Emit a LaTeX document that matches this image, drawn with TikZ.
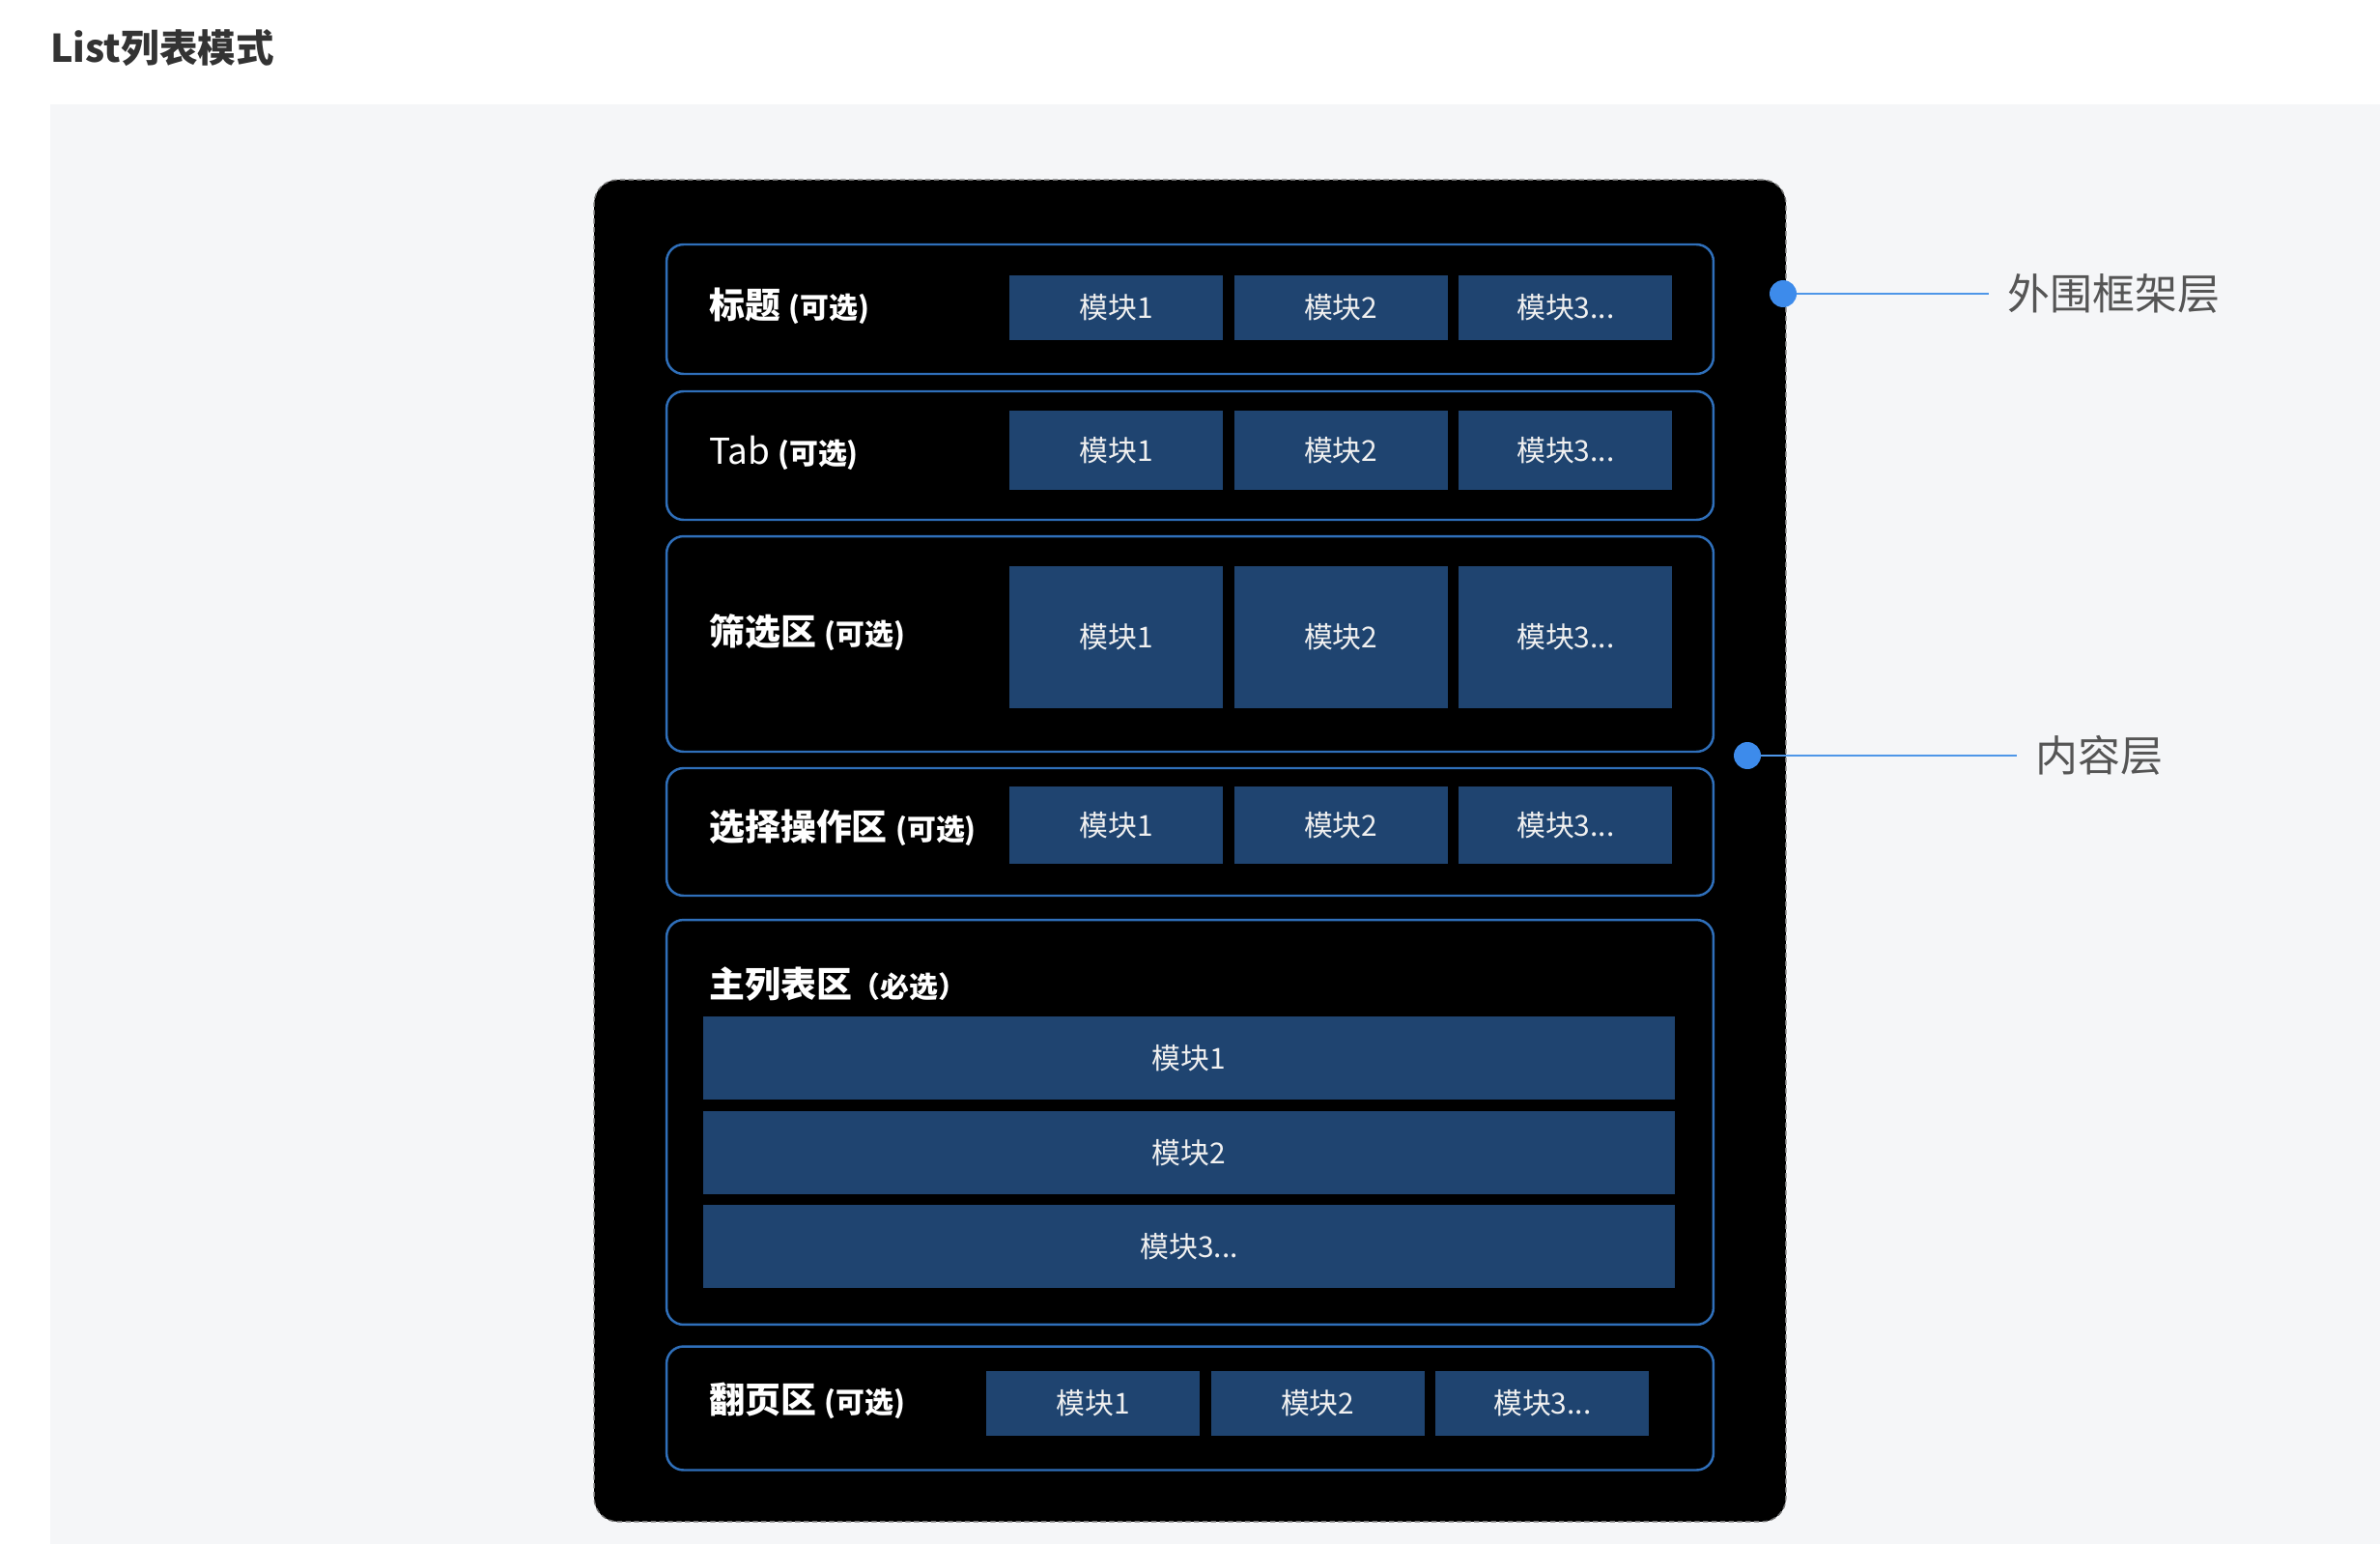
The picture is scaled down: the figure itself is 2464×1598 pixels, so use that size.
\documentclass[tikz,border=0pt]{standalone}
\usepackage{fontspec}
\setmainfont{Noto Sans CJK SC}
\usepackage{tikz}
\usetikzlibrary{positioning}
\definecolor{cbg}{HTML}{F5F6F8}
\definecolor{cmod}{HTML}{1F4470}
\definecolor{cedge}{HTML}{2F6FBA}
\definecolor{cdot}{HTML}{3D8BEB}
\definecolor{cline}{HTML}{4E96E8}
\definecolor{ctitle}{HTML}{333333}
\definecolor{cnote}{HTML}{555555}
\newcommand{\opt}[1]{{\fontsize{17pt}{20pt}\selectfont #1}}
\tikzset{
  outer/.style={rectangle, rounded corners=14pt, fill=black, draw=black!55,
    dash pattern=on 3pt off 2pt, line width=0.8pt,
    minimum width=24.68cm, minimum height=27.78cm},
  rowbox/.style={rectangle, rounded corners=10pt, draw=cedge, line width=1.4pt,
    minimum width=21.68cm},
  mod/.style={rectangle, fill=cmod, text=white!94!black, inner sep=0pt,
    minimum width=4.42cm, font=\fontsize{17pt}{20pt}\selectfont},
  bar/.style={mod, minimum width=20.12cm, minimum height=1.72cm},
  lab/.style={anchor=west, inner sep=0pt, text=white,
    font=\bfseries\fontsize{21pt}{25pt}\selectfont},
  pindot/.style={circle, fill=cdot, minimum size=0.56cm, inner sep=0pt},
  guide/.style={draw=cline, line width=1.1pt},
  note/.style={anchor=west, inner xsep=0.38cm, inner ysep=0pt, text=cnote,
    font=\fontsize{25pt}{30pt}\selectfont},
}
\begin{document}
\begin{tikzpicture}[x=0.02cm, y=-0.02cm]
  \fill[white] (0,0) rectangle (2464,1598);
  \useasboundingbox (0,0) rectangle (2464,1598);
  \fill[cbg] (52,108) rectangle (2464,1598);
  \node[anchor=west, inner sep=0pt, text=ctitle, font=\bfseries\fontsize{22.5pt}{27pt}\selectfont] (title) at (52,50) {List列表模式};

  % outer frame and content rows
  \node[outer] (frame) at (1232,880.5) {};
  \node[rowbox, minimum height=2.68cm] (r1) at (1232,320) {};
  \node[rowbox, minimum height=2.66cm] (r2) at (1232,471.5) {};
  \node[rowbox, minimum height=4.46cm] (r3) at (1232,666.5) {};
  \node[rowbox, minimum height=2.64cm] (r4) at (1232,861) {};
  \node[rowbox, minimum height=8.38cm] (r5) at (1232,1161.5) {};
  \node[rowbox, minimum height=2.56cm] (r6) at (1232,1457.5) {};

  \node[lab] (t1) at (734,317) {标题 \opt{(可选)}};
  \node[lab] (t2) at (734,469) {\mdseries Tab \bfseries\opt{(可选)}};
  \node[lab] (t3) at (734,655) {筛选区 \opt{(可选)}};
  \node[lab] (t4) at (734,857) {选择操作区 \opt{(可选)}};
  \node[lab] (t5) at (734,1019) {主列表区\opt{（必选）}};
  \node[lab] (t6) at (734,1450) {翻页区 \opt{(可选)}};

  % modules, three per row
  \foreach \r/\x/\y/\h in {1/1155.5/318.5/1.34, 2/1155.5/466/1.64, 3/1155.5/659.5/2.94,
                           4/1155.5/854/1.6, 6/1131.5/1452.5/1.34} {
    \node[mod, minimum height=\h cm] (m\r1) at (\x,\y) {模块1};
    \node[mod, minimum height=\h cm, right=0.22cm of m\r1] (m\r2) {模块2};
    \node[mod, minimum height=\h cm, right=0.22cm of m\r2] (m\r3) {模块3...};
  }
  \node[bar] (b1) at (1231,1095) {模块1};
  \node[bar, below=0.22cm of b1] (b2) {模块2};
  \node[bar, below=0.22cm of b2] (b3) {模块3...};

  % layer notes
  \node[pindot] (p1) at (1846,304) {};
  \node[note] (n1) at (2059,304) {外围框架层};
  \draw[guide] (p1) -- (n1);
  \node[pindot] (p2) at (1809,782) {};
  \node[note] (n2) at (2088,782) {内容层};
  \draw[guide] (p2) -- (n2);
\end{tikzpicture}
\end{document}
